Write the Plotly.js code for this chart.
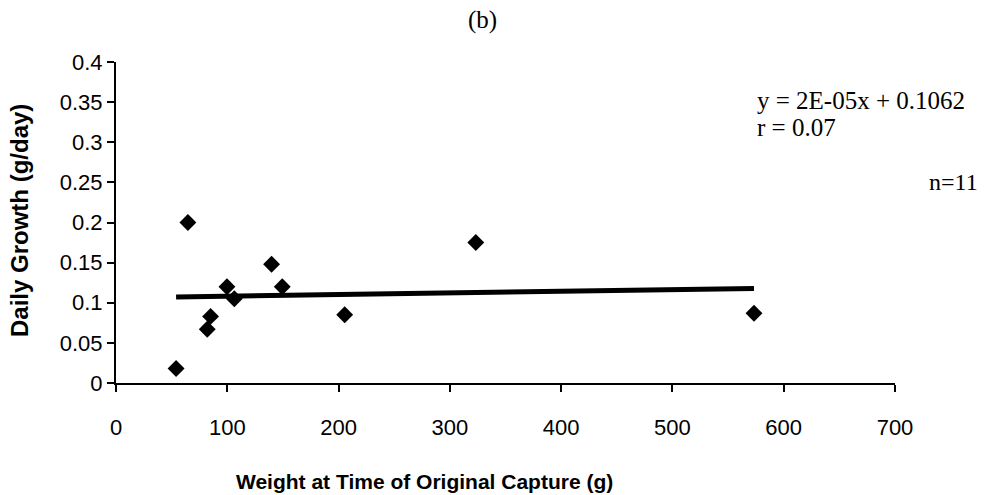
<!DOCTYPE html>
<html>
<head>
<meta charset="utf-8">
<script src="https://cdn.plot.ly/plotly-3.0.1.min.js"></script>
<style>html,body{margin:0;padding:0;background:#fff;}#chart{width:987px;height:495px;}</style>
</head>
<body>
<div id="chart"></div>
<script>
// Data
const weightG = [54, 64.6, 82, 85, 99.7, 106.3, 139.8, 149.4, 205.5, 323.3, 573.3];
const dailyGrowth = [0.018, 0.2, 0.067, 0.083, 0.12, 0.105, 0.148, 0.12, 0.085, 0.175, 0.087];
// Linear fit as reported on the chart
const fitSlope = 0.00002;
const fitIntercept = 0.1062;
const eqText = "y = 2E-05x + 0.1062";
const rText = "r = 0.07";
const nText = "n=11";
const chartTitle = "(b)";
const xTitle = "Weight at Time of Original Capture (g)";
const yTitle = "Daily Growth (g/day)";

const xMin = Math.min(...weightG), xMax = Math.max(...weightG);
const fitX = [xMin, xMax];
const fitY = fitX.map(v => fitSlope * v + fitIntercept);

const data = [
  {x: fitX, y: fitY, type: 'scatter', mode: 'lines',
   line: {color: '#000', width: 5}, hoverinfo: 'skip', showlegend: false},
  {x: weightG, y: dailyGrowth, type: 'scatter', mode: 'markers',
   marker: {symbol: 'diamond', size: 13, color: '#000'}, showlegend: false}
];

const axisFont = {family: 'Liberation Sans, Arial, sans-serif', size: 22, color: '#000'};
const serif = 'Liberation Serif, Times New Roman, serif';
const sans = 'Liberation Sans, Arial, sans-serif';
const px = v => (v - 116) / 779;
const py = v => (383 - v) / 321;
const layout = {
  width: 987, height: 495,
  margin: {l: 116, r: 92, t: 62, b: 112},
  paper_bgcolor: '#fff', plot_bgcolor: '#fff',
  showlegend: false,
  xaxis: {range: [0, 700], dtick: 100, tick0: 0, showgrid: false, zeroline: false,
    showline: true, linecolor: '#000', linewidth: 2,
    ticks: 'outside', ticklen: 7, tickwidth: 2, tickcolor: '#000',
    tickfont: axisFont, ticklabelstandoff: 17},
  yaxis: {range: [0, 0.4], dtick: 0.05, tick0: 0, showgrid: false, zeroline: false,
    showline: true, linecolor: '#000', linewidth: 2,
    ticks: 'outside', ticklen: 7, tickwidth: 2, tickcolor: '#000',
    tickfont: axisFont, ticklabelstandoff: 0},
  annotations: [
    {text: chartTitle, xref: 'paper', yref: 'paper', x: px(482), y: py(20),
     xanchor: 'center', yanchor: 'middle', showarrow: false,
     font: {family: serif, size: 25, color: '#000'}},
    {text: xTitle, xref: 'paper', yref: 'paper', x: px(424), y: py(481),
     xanchor: 'center', yanchor: 'middle', showarrow: false,
     font: {family: sans, size: 21, color: '#000', weight: 'bold'}},
    {text: yTitle, xref: 'paper', yref: 'paper', x: px(19), y: py(221),
     xanchor: 'center', yanchor: 'middle', textangle: -90, showarrow: false,
     font: {family: sans, size: 24, color: '#000', weight: 'bold'}},
    {text: eqText, xref: 'paper', yref: 'paper', x: px(755), y: py(100),
     xanchor: 'left', yanchor: 'middle', align: 'left', showarrow: false,
     font: {family: serif, size: 25, color: '#000'}},
    {text: rText, xref: 'paper', yref: 'paper', x: px(755), y: py(127),
     xanchor: 'left', yanchor: 'middle', align: 'left', showarrow: false,
     font: {family: serif, size: 25, color: '#000'}},
    {text: nText, xref: 'paper', yref: 'paper', x: px(927), y: py(182),
     xanchor: 'left', yanchor: 'middle', showarrow: false,
     font: {family: serif, size: 24, color: '#000'}}
  ]
};
Plotly.newPlot('chart', data, layout, {displayModeBar: false, staticPlot: true});
</script>
</body>
</html>
